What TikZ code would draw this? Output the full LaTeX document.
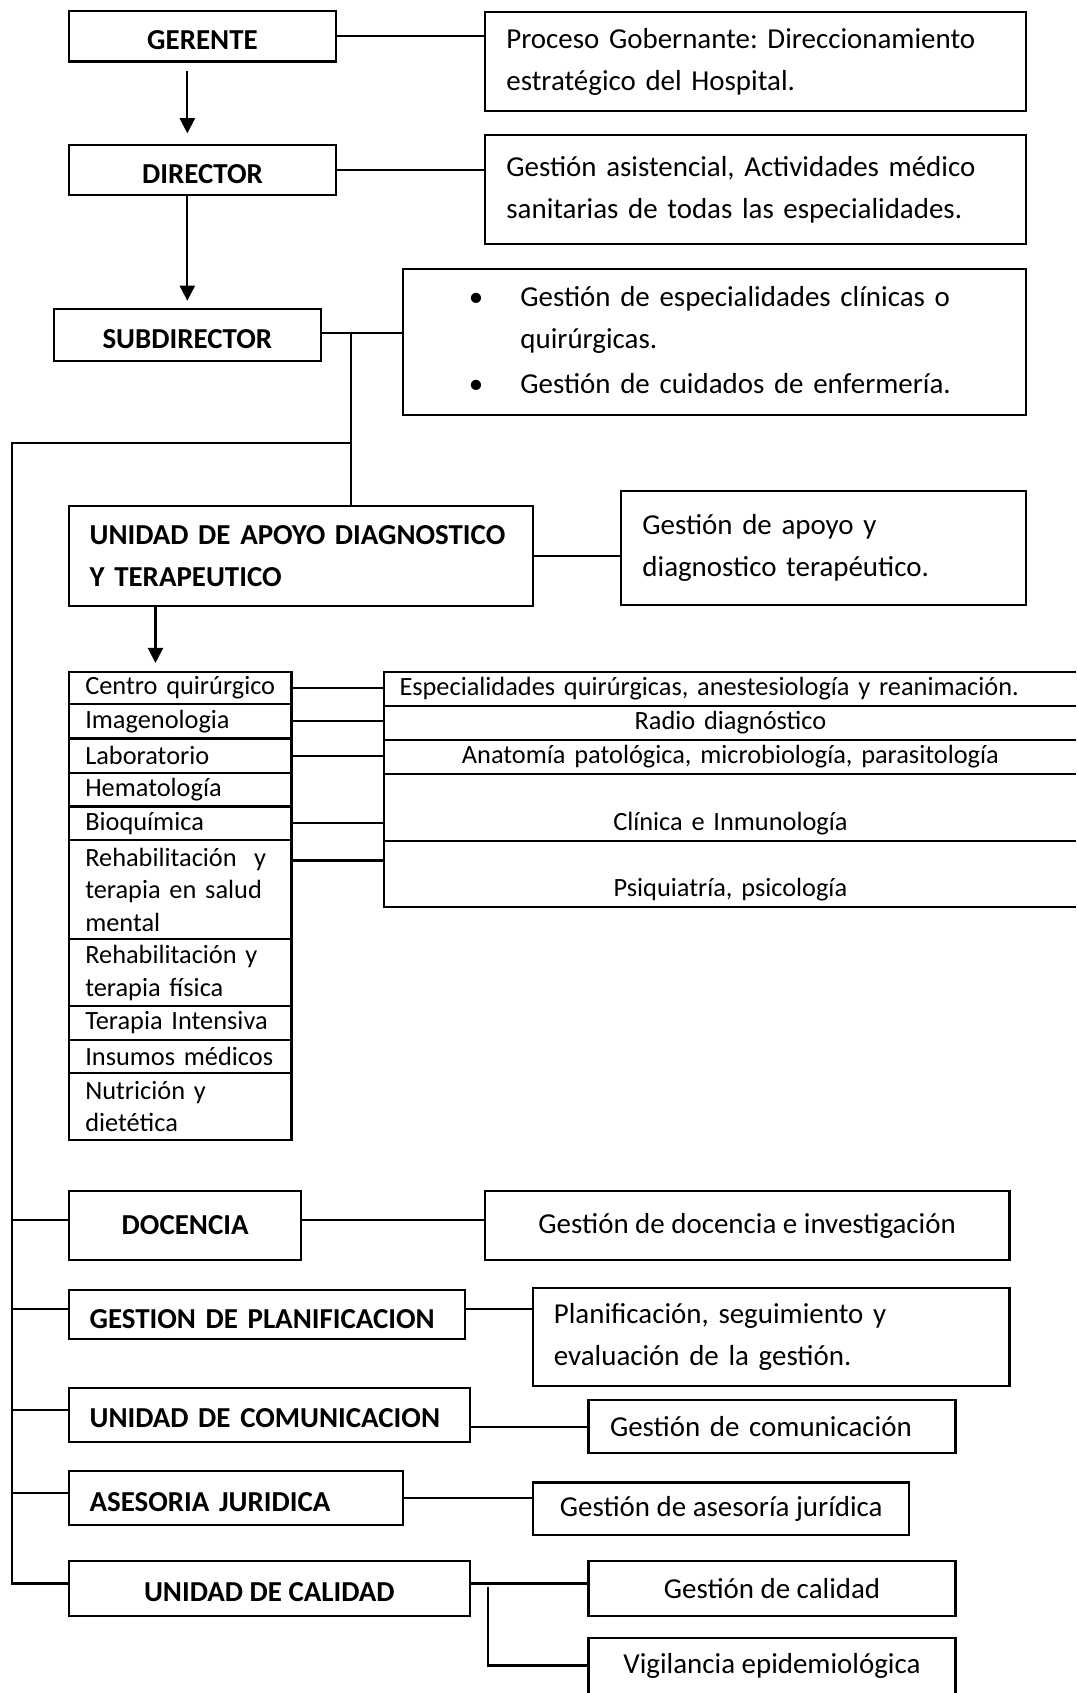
\documentclass[tikz,border=0pt]{standalone}
\usepackage{fontspec}
\setmainfont{Carlito}
\usetikzlibrary{arrows.meta}
\frenchspacing
% lowers a title inside its box without changing the box size
\newcommand{\lowtitle}[2][2pt]{\raisebox{-#1}[\height][\depth]{#2}}

\begin{document}
\begin{tikzpicture}[x=0.5pt,y=-0.5pt,
  every node/.style={inner sep=0pt, outer sep=0pt},
  line width=1pt,
  sz/.style 2 args={minimum width=#1*0.5pt, minimum height=#2*0.5pt},
  box/.style={draw, rectangle},
  cell/.style={rectangle},
  head/.style={font=\fontsize{13.4}{19.5}\selectfont\bfseries},
  body/.style={font=\fontsize{13.4}{19.5}\selectfont},
  tab/.style={font=\fontsize{12.2}{15}\selectfont},
  tw/.style={text width=#1*0.5pt, align=left},
  twc/.style={text width=#1*0.5pt, align=center},
  arr/.style={-{Triangle[width=7pt,length=7pt]}},
  up/.style={yshift=2.5pt},
]
\useasboundingbox (0,0) rectangle (997,1568);

% --- upper chain of command ---
\node[box, head, sz={247}{47}] (gerente) at (187.5,33.5) {\lowtitle{GERENTE}};
\node[box, body, sz={501}{92}, tw=461] (g1) at (699.5,57)
  {Proceso Gobernante: Direccionamiento\\estratégico del Hospital.};

\node[box, head, sz={247}{46}] (director) at (187.5,157.5) {\lowtitle{DIRECTOR}};
\node[box, body, sz={501}{101}, tw=461] (g2) at (699.5,175.5)
  {Gestión asistencial, Actividades médico\\sanitarias de todas las especialidades.};

\node[box, head, sz={247}{48}] (sub) at (173.5,310.5) {\lowtitle{SUBDIRECTOR}};
\node[box, body, sz={577}{135}, tw=523] (g3) at (661.5,316.5)
  {\begin{tabular}{@{}l@{}l@{}}
    \makebox[41pt][c]{\textbullet} & Gestión de especialidades clínicas o\\
     & quirúrgicas.\\[1.5pt]
    \makebox[41pt][c]{\textbullet} & Gestión de cuidados de enfermería.
   \end{tabular}};

\node[box, head, sz={430}{92}, tw=392] (apoyo) at (279,515)
  {UNIDAD DE APOYO DIAGNOSTICO\\Y TERAPEUTICO};
\node[box, body, sz={375}{105}, tw=335] (g4) at (762.5,507.5)
  {Gestión de apoyo y\\diagnostico terapéutico.};

% --- services of the support unit ---
\node[box, tab, sz={206}{30}, tw=176] (c1) at (167,637) {Centro quirúrgico};
\node[box, tab, sz={206}{32}, tw=176] (c2) at (167,668) {Imagenologia};
\node[box, tab, sz={206}{32}, tw=176] (c3) at (167,700) {Laboratorio};
\node[box, tab, sz={206}{31}, tw=176] (c4) at (167,731.5) {Hematología};
\node[box, tab, sz={206}{31}, tw=176] (c5) at (167,762.5) {Bioquímica};
\node[box, tab, sz={206}{92}, tw=176] (c6) at (167,824)
  {Rehabilitación\ \ y\\terapia en salud\\mental};
\node[box, tab, sz={206}{62}, tw=176] (c7) at (167,901) {Rehabilitación y\\terapia física};
\node[box, tab, sz={206}{31}, tw=176] (c8) at (167,947.5) {Terapia Intensiva};
\node[box, tab, sz={206}{31}, tw=176] (c9) at (167,978.5) {Insumos médicos};
\node[box, tab, sz={206}{62}, tw=176] (c10) at (167,1025) {Nutrición y\\dietética};

\node[cell, tab, sz={641}{32}, tw=613] (r1) at (676.5,638)
  {Especialidades quirúrgicas, anestesiología y reanimación.};
\node[cell, tab, sz={641}{31}, twc=613] (r2) at (676.5,669.5) {Radio diagnóstico};
\node[cell, tab, sz={641}{32}, twc=613] (r3) at (676.5,701)
  {Anatomía patológica, microbiología, parasitología};
\node[cell, tab, sz={641}{62}, twc=613] (r4) at (676.5,748)
  {\strut\\\strut Clínica e Inmunología};
\node[cell, tab, sz={641}{61}, twc=613] (r5) at (676.5,809.5)
  {\strut\\\strut Psiquiatría, psicología};
\foreach \r in {r1,r2,r3,r4,r5}
  \draw (\r.north east) -- (\r.north west) -- (\r.south west) -- (\r.south east);

% --- staff units ---
\node[box, head, sz={215}{63.5}] (docencia) at (171.5,1135) {DOCENCIA};
\node[box, body, sz={486}{63.5}] (g5) at (692,1135) {Gestión de docencia e investigación};

\node[box, head, sz={367}{46}, tw=329] (planif) at (247.5,1217.5)
  {\lowtitle{GESTION DE PLANIFICACION}};
\node[box, body, sz={441}{91}, tw=403] (g6) at (714.5,1238.5)
  {Planificación, seguimiento y\\evaluación de la gestión.};

\node[box, head, sz={371}{50}, tw=333] (comunic) at (249.5,1310.5)
  {\lowtitle[1.5pt]{UNIDAD DE COMUNICACION}};
\node[box, body, sz={340}{49}, tw=300] (g7) at (715,1321.5) {Gestión de comunicación};

\node[box, head, sz={309}{50}, tw=271] (asesoria) at (218.5,1387.5)
  {\lowtitle{ASESORIA JURIDICA}};
\node[box, body, sz={348}{49}] (g8) at (668,1397.5) {Gestión de asesoría jurídica};

\node[box, head, sz={371}{51}] (calidad) at (249.5,1471.5) {\lowtitle[1.5pt]{UNIDAD DE CALIDAD}};
\node[box, body, sz={340}{51}] (g9) at (715,1471.5) {Gestión de calidad};
\node[cell, body, sz={340}{51}] (g10) at (715,1542.5) {Vigilancia epidemiológica};
\draw (g10.south west) -- (g10.north west) -- (g10.north east) -- (g10.south east);

% --- connectors ---
\draw (gerente.east) -- (gerente.east -| g1.west);
\draw (director.east) -- (director.east -| g2.west);
\draw ([yshift=1pt]sub.east) -- ([yshift=1pt]sub.east -| g3.west);
\draw (apoyo.east) -- (apoyo.east -| g4.west);

\draw[arr, shorten <=4.5pt, shorten >=5.5pt]
  ([xshift=-7pt]gerente.south) -- ([xshift=-7pt]gerente.south |- director.north);
\draw[arr, shorten >=4pt]
  ([xshift=-7pt]director.south) -- ([xshift=-7pt]director.south |- sub.north);
\draw[arr, shorten >=4pt]
  ([xshift=40pt]apoyo.south west) -- ([xshift=40pt]apoyo.south west |- c1.north);

\foreach \c/\r in {c1/r1, c2/r2, c3/r3, c5/r4}
  \draw (\c.east) -- (\c.east -| \r.west);
\coordinate (c6a) at ([yshift=-9.5pt]c6.north east);
\draw (c6a) -- (c6a -| r5.west);

\coordinate (j1) at (325,308.5);
\coordinate (j2) at (325,410);
\coordinate (sp) at (11,410);
\draw (j1) -- (j1 |- apoyo.north);
\draw (j2) -- (sp) -- ([up]sp |- calidad.west) -- ([up]calidad.west);
\foreach \n in {docencia, planif, comunic, asesoria}
  \draw ([up]sp |- \n.west) -- ([up]\n.west);

\draw ([up]docencia.east) -- ([up]g5.west);
\draw ([up]planif.east) -- ([up]planif.east -| g6.west);
\draw (comunic.east |- g7.west) -- (g7.west);
\draw (asesoria.east) -- (asesoria.east -| g8.west);
\draw ([up]calidad.east) -- ([up]g9.west);
\coordinate (k) at (452,1470);
\draw (k) -- (k |- g10.west) -- (g10.west);
\end{tikzpicture}
\end{document}
